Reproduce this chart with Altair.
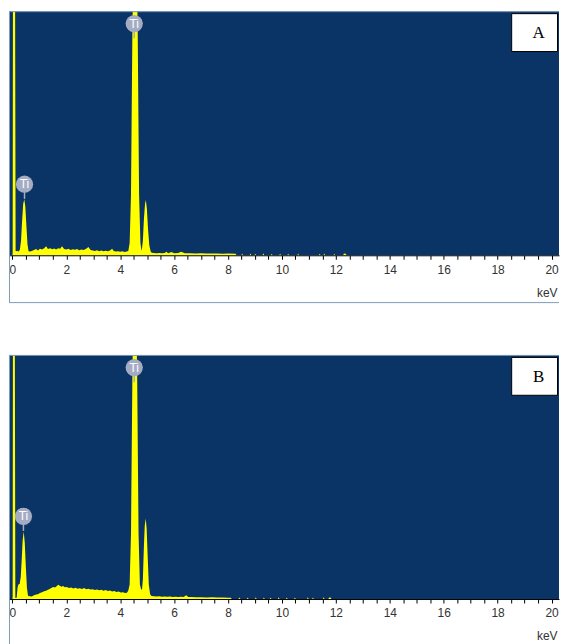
import altair as alt
import pandas as pd

BLUE = "#0a3366"
YELLOW = "#ffff00"
FRAME = "#7f9db9"
TI_FILL = "#a4acc4"

PLOT_W = 552
X_MIN, X_MAX = -0.1257, 20.277
tick_values = [i * 0.5 for i in range(41)]

# ---------------- Panel A spectrum (keV, % of full scale) ----------------
energy_a = [0.00, 0.01, 0.02, 0.10, 0.12, 0.14, 0.18, 0.22, 0.25,
            0.28, 0.32, 0.36, 0.40, 0.44, 0.48, 0.52, 0.56, 0.60,
            0.65, 0.72, 0.80, 0.88, 0.95, 1.02, 1.10, 1.18, 1.25, 1.32,
            1.40, 1.48, 1.55, 1.62, 1.70, 1.77, 1.84, 1.92, 2.00, 2.08,
            2.16, 2.24, 2.32, 2.40, 2.48, 2.56, 2.64, 2.72, 2.82, 2.90,
            2.98, 3.06, 3.14, 3.22, 3.30, 3.38, 3.46, 3.54, 3.62, 3.70,
            3.76, 3.84, 3.92, 4.00, 4.08, 4.16, 4.24,
            4.30, 4.35, 4.40, 4.45, 4.50, 4.55, 4.60, 4.65, 4.70, 4.75, 4.79,
            4.80, 4.84, 4.88, 4.92, 4.95, 4.99, 5.03, 5.08, 5.13, 5.17,
            5.25, 5.35, 5.45, 5.55, 5.65, 5.71, 5.78, 5.90, 6.00, 6.15,
            6.26, 6.40, 6.60, 6.80, 7.00, 7.20, 7.40, 7.60, 7.80, 8.00,
            8.28, 8.32,
            8.50, 8.52, 8.56, 8.80, 8.83, 8.86, 8.98, 9.01, 9.04,
            9.28, 9.31, 9.34, 9.59, 9.62, 9.65, 9.90, 9.93, 9.96,
            10.20, 10.23, 10.26, 10.57, 10.60, 10.63, 11.37, 11.40, 11.43,
            11.54, 11.57, 11.60, 11.91, 11.94, 11.97, 12.27, 12.30, 12.36,
            12.40, 20.277]
counts_a = [0.0, 1.0, 110, 110, 1.8, 1.6, 1.9, 1.5, 1.8,
            2.5, 6.0, 14.0, 21.0, 23.0, 20.0, 12.0, 4.5, 1.6,
            1.5, 1.8, 2.2, 2.6, 2.0, 2.7, 2.4, 2.9, 3.7, 2.6,
            2.9, 2.5, 2.8, 2.4, 2.9, 2.7, 3.7, 2.6, 2.4, 2.7,
            2.2, 2.5, 2.3, 2.6, 2.1, 2.4, 2.2, 2.6, 3.4, 2.2,
            2.0, 1.8, 2.1, 1.7, 2.0, 1.6, 1.9, 1.7, 2.0, 2.7,
            1.8, 1.5, 1.7, 1.4, 1.6, 1.3, 1.5,
            1.8, 5.0, 25.0, 90.0, 130, 140, 130, 90.0, 25.0, 5.0, 2.0,
            2.2, 6.0, 15.0, 21.0, 22.6, 19.0, 11.0, 4.0, 1.5, 1.0,
            0.9, 0.8, 0.9, 0.8, 0.9, 1.4, 0.8, 1.3, 0.8, 0.9,
            1.4, 0.8, 0.8, 0.7, 0.8, 0.7, 0.7, 0.7, 0.6, 0.7,
            0.6, 0.0,
            0.0, 0.7, 0.0, 0.0, 0.7, 0.0, 0.0, 0.6, 0.0,
            0.0, 0.8, 0.0, 0.0, 0.6, 0.0, 0.0, 0.7, 0.0,
            0.0, 0.6, 0.0, 0.0, 0.7, 0.0, 0.0, 0.6, 0.0,
            0.0, 0.7, 0.0, 0.0, 0.6, 0.0, 0.0, 0.7, 0.6,
            0.0, 0.0]

# ---------------- Panel B spectrum ----------------
energy_b = [0.00, 0.01, 0.02, 0.09, 0.11, 0.13, 0.16, 0.19, 0.22, 0.27,
            0.31, 0.35, 0.38, 0.42, 0.46, 0.50, 0.54, 0.58,
            0.65, 0.72, 0.80, 0.88, 0.95, 1.02, 1.10, 1.18, 1.25, 1.32,
            1.40, 1.46, 1.52, 1.58, 1.64, 1.70, 1.76, 1.82, 1.88, 1.95,
            2.02, 2.10, 2.18, 2.26, 2.34, 2.42, 2.50, 2.58, 2.66, 2.74,
            2.82, 2.90, 2.98, 3.06, 3.14, 3.22, 3.30, 3.38, 3.46, 3.54,
            3.62, 3.70, 3.78, 3.86, 3.94, 4.02, 4.10, 4.18,
            4.25, 4.30, 4.35, 4.40, 4.45, 4.50, 4.54, 4.58, 4.63, 4.68, 4.73, 4.78,
            4.81, 4.84, 4.88, 4.91, 4.945, 4.98, 5.02, 5.06, 5.11, 5.16,
            5.25, 5.35, 5.45, 5.55, 5.65, 5.75, 5.85, 5.95, 6.05, 6.15,
            6.25, 6.35, 6.45, 6.52, 6.65, 6.80, 7.00, 7.20, 7.40, 7.60,
            7.80, 8.00, 8.10, 8.14,
            8.38, 8.42, 8.46, 8.70, 8.73, 8.76, 9.00, 9.03, 9.06,
            9.30, 9.33, 9.36, 9.55, 9.58, 9.61, 9.85, 9.88, 9.91,
            10.15, 10.18, 10.21, 10.45, 10.48, 10.51, 10.93, 10.96, 10.99,
            11.12, 11.15, 11.18, 11.52, 11.55, 11.58, 11.72, 11.75, 11.80,
            11.84, 20.277]
counts_b = [0.0, 1.0, 110, 110, 0.5, 0.4, 0.6, 4.5, 6.0, 6.2,
            9.0, 17.0, 24.0, 27.7, 23.0, 13.0, 4.5, 1.3,
            1.1, 1.0, 1.5, 1.9, 2.0, 2.5, 2.8, 3.2, 3.4, 3.8,
            4.2, 4.6, 4.9, 4.7, 5.2, 5.9, 5.4, 5.0, 5.3, 4.8,
            4.9, 4.5, 4.7, 4.3, 4.6, 4.2, 4.4, 4.1, 4.5, 4.0,
            4.2, 3.9, 4.0, 3.7, 3.9, 3.6, 3.8, 3.4, 3.7, 3.3,
            3.5, 3.1, 3.3, 2.9, 3.1, 2.7, 2.8, 2.5,
            2.6, 3.5, 6.0, 27.0, 90.0, 130, 140, 130, 90.0, 27.0, 6.0, 3.8,
            4.0, 8.0, 22.0, 30.0, 33.0, 29.0, 17.0, 6.0, 2.0, 1.2,
            1.1, 1.0, 1.1, 0.9, 1.0, 0.9, 1.0, 0.8, 0.9, 0.8,
            0.9, 0.8, 1.5, 0.8, 0.8, 0.7, 0.7, 0.6, 0.7, 0.6,
            0.6, 0.5, 0.5, 0.0,
            0.0, 0.6, 0.0, 0.0, 0.6, 0.0, 0.0, 0.7, 0.0,
            0.0, 0.6, 0.0, 0.0, 0.6, 0.0, 0.0, 0.7, 0.0,
            0.0, 0.6, 0.0, 0.0, 0.6, 0.0, 0.0, 0.7, 0.0,
            0.0, 0.6, 0.0, 0.0, 0.7, 0.0, 0.0, 0.6, 0.6,
            0.0, 0.0]

# Ti peak labels (keV, % of full scale)
ti_a_kev = [0.45, 4.52]
ti_a_pos = [29.1, 94.9]
ti_b_kev = [0.41, 4.52]
ti_b_pos = [33.9, 94.8]
ti_text = ["Ti", "Ti"]

one = pd.DataFrame({"k": [0]})


def panel(energy, counts, ti_kev, ti_pos, letter, frame_bottom):
    spec = pd.DataFrame({"keV": energy, "counts": counts})
    x_enc = alt.X(
        "keV:Q",
        scale=alt.Scale(domain=[X_MIN, X_MAX], nice=False, zero=False),
        axis=alt.Axis(
            values=tick_values,
            labelExpr="datum.value % 2 === 0 ? format(datum.value, 'd') : ''",
            title=None, grid=False, domainColor="#000", domainWidth=1,
            tickColor="#000", tickSize=4, tickWidth=1,
            labelFont="Liberation Sans", labelFontSize=12, labelColor="#333",
            labelPadding=5, labelFlush=False, labelOverlap=False,
        ),
    )
    y_enc = alt.Y("counts:Q", scale=alt.Scale(domain=[0, 100], nice=False), axis=None)

    area = alt.Chart(spec).mark_area(
        color=YELLOW, clip=True, interpolate="linear"
    ).encode(x=x_enc, y=y_enc)

    ti = pd.DataFrame({"keV": ti_kev, "counts": ti_pos,
                       "stem": [v - 6.0 for v in ti_pos], "label": ti_text})
    stems = alt.Chart(ti).mark_rule(color=TI_FILL, strokeWidth=1.5).encode(
        x=x_enc, y=y_enc, y2="stem:Q")
    circles = alt.Chart(ti).mark_point(
        filled=True, shape="circle", size=300, color=TI_FILL, opacity=1
    ).encode(x=x_enc, y=y_enc)
    labels = alt.Chart(ti).mark_text(
        color="white", font="Liberation Sans", fontSize=12
    ).encode(x=x_enc, y=y_enc, text="label:N")

    box = alt.Chart(one).mark_rect(fill="white", stroke="#000", strokeWidth=1).encode(
        x=alt.value(504.5), x2=alt.value(550.5), y=alt.value(2.5), y2=alt.value(40.5))
    letter_t = alt.Chart(one).mark_text(
        font="Liberation Serif", fontSize=17, color="#000"
    ).encode(x=alt.value(531.5), y=alt.value(22), text=alt.value(letter))

    kev = alt.Chart(one).mark_text(
        align="right", font="Liberation Sans", fontSize=12, color="#333"
    ).encode(x=alt.value(550.5), y=alt.value(282.5), text=alt.value("keV"))

    top = alt.Chart(one).mark_rule(color=FRAME).encode(
        x=alt.value(0), x2=alt.value(PLOT_W), y=alt.value(0.5))
    left = alt.Chart(one).mark_rule(color=FRAME).encode(
        x=alt.value(0.5), y=alt.value(0), y2=alt.value(frame_bottom))
    layers = [area, stems, circles, labels, box, letter_t, kev, top, left]
    if frame_bottom < 295:
        bottom = alt.Chart(one).mark_rule(color=FRAME).encode(
            x=alt.value(0), x2=alt.value(PLOT_W), y=alt.value(frame_bottom))
        layers.append(bottom)
    return alt.layer(*layers).properties(width=PLOT_W, height=245)


pa = panel(energy_a, counts_a, ti_a_kev, ti_a_pos, "A", 292.5)
pb = panel(energy_b, counts_b, ti_b_kev, ti_b_pos, "B", 300)

chart = alt.vconcat(pa, pb, spacing=100, bounds="flush").properties(
    padding={"left": 0, "top": 1, "right": 0, "bottom": 0}
).configure_view(fill=BLUE, stroke=None)

chart.save("out.html", embed_options={"renderer": "svg", "actions": False})
